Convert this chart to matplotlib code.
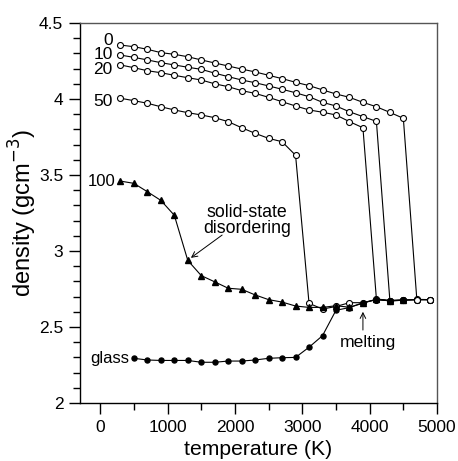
import matplotlib.pyplot as plt
import numpy as np

plt.rcParams['font.family'] = ['Liberation Sans', 'DejaVu Sans']

# temperature grid (K)
T = np.arange(300, 5000, 200)

# density curves (g/cm^3), one per pressure label; solid branch then melt
d0 = [4.355, 4.344, 4.327, 4.305, 4.294, 4.278, 4.257, 4.237, 4.217, 4.197, 4.178,
      4.156, 4.134, 4.110, 4.088, 4.060, 4.033, 4.011, 3.978, 3.949, 3.912, 3.873,
      2.682, 2.680]
d10 = [4.289, 4.274, 4.257, 4.239, 4.224, 4.209, 4.195, 4.170, 4.147, 4.125, 4.107,
       4.086, 4.064, 4.041, 4.015, 3.978, 3.954, 3.916, 3.884, 3.853,
       2.674, 2.677, 2.680, 2.680]
d20 = [4.224, 4.206, 4.186, 4.173, 4.156, 4.140, 4.125, 4.100, 4.081, 4.055, 4.037,
       4.011, 3.982, 3.954, 3.928, 3.913, 3.895, 3.851, 3.811,
       2.685, 2.674, 2.677, 2.680, 2.680]
d50 = [4.005, 3.989, 3.972, 3.949, 3.928, 3.910, 3.895, 3.877, 3.851, 3.811, 3.774,
       3.741, 3.719, 3.630,
       2.656, 2.618, 2.635, 2.660, 2.660, 2.680, 2.674, 2.677, 2.680, 2.680]
d100 = [3.460, 3.445, 3.390, 3.333, 3.235, 2.938, 2.838, 2.797, 2.755, 2.748, 2.711,
        2.680, 2.664, 2.638, 2.629, 2.629, 2.640, 2.630, 2.656, 2.684, 2.672, 2.676]

T_glass = np.arange(500, 4600, 200)
d_glass = [2.294, 2.283, 2.280, 2.280, 2.280, 2.268, 2.268, 2.276, 2.276, 2.283,
           2.294, 2.298, 2.300, 2.367, 2.443, 2.610, 2.628, 2.660, 2.680, 2.672, 2.676]

labels = ['0', '10', '20', '50']
curves = [d0, d10, d20, d50]
label_y = [4.385, 4.29, 4.195, 3.985]

fig = plt.figure(figsize=(4.58, 4.61), dpi=100)
ax = fig.add_axes([0.1747, 0.1258, 0.7795, 0.8243])

lw = 0.8
for lab, d, ly in zip(labels, curves, label_y):
    ax.plot(T[:len(d)], d, '-o', color='black', lw=lw, ms=4.3,
            mfc='white', mec='black', mew=0.8, zorder=3)
    ax.text(185, ly, lab, ha='right', va='center', fontsize=12.5)

ax.plot(T[:len(d100)], d100, '-^', color='black', lw=lw, ms=5, zorder=4)
ax.text(225, d100[0], '100', ha='right', va='center', fontsize=12)

ax.plot(T_glass, d_glass, '-o', color='black', lw=lw, ms=3.6, zorder=4)
ax.text(430, d_glass[0], 'glass', ha='right', va='center', fontsize=12)

# annotations
ax.text(2180, 3.2, 'solid-state\ndisordering', ha='center', va='center',
        fontsize=12.8, linespacing=0.9)
ax.annotate('', xy=(1346, 2.955), xytext=(1810, 3.105),
            arrowprops=dict(arrowstyle='->', color='black', lw=0.7,
                            shrinkA=0, shrinkB=0))
ax.text(3977, 2.395, 'melting', ha='center', va='center', fontsize=12.6)
ax.annotate('', xy=(3900, 2.60), xytext=(3900, 2.48),
            arrowprops=dict(arrowstyle='->', color='black', lw=0.7,
                            shrinkA=0, shrinkB=0))

ax.set_xlim(-300, 5000)
ax.set_ylim(2, 4.5)
ax.set_xticks(np.arange(0, 5001, 1000))
ax.set_xticks(np.arange(500, 5000, 1000), minor=True)
ax.set_yticks([2, 2.5, 3, 3.5, 4, 4.5])
ax.set_yticklabels(['2', '2.5', '3', '3.5', '4', '4.5'])
ax.set_yticks(np.arange(2.1, 4.5, 0.1), minor=True)
ax.tick_params(axis='both', which='major', direction='out', length=8, width=1,
               labelsize=12.5, pad=4)
ax.tick_params(axis='both', which='minor', direction='out', length=5, width=1)
ax.tick_params(top=False, right=False, which='both')
for s in ax.spines.values():
    s.set_linewidth(1.0)
ax.spines['top'].set_color('#555555')
ax.spines['right'].set_color('#555555')

ax.set_xlabel('temperature (K)', fontsize=15.2, labelpad=4)
ax.set_ylabel('density (gcm$^{-3}$)', fontsize=17, labelpad=0)

fig.savefig('out.png', dpi=100)
